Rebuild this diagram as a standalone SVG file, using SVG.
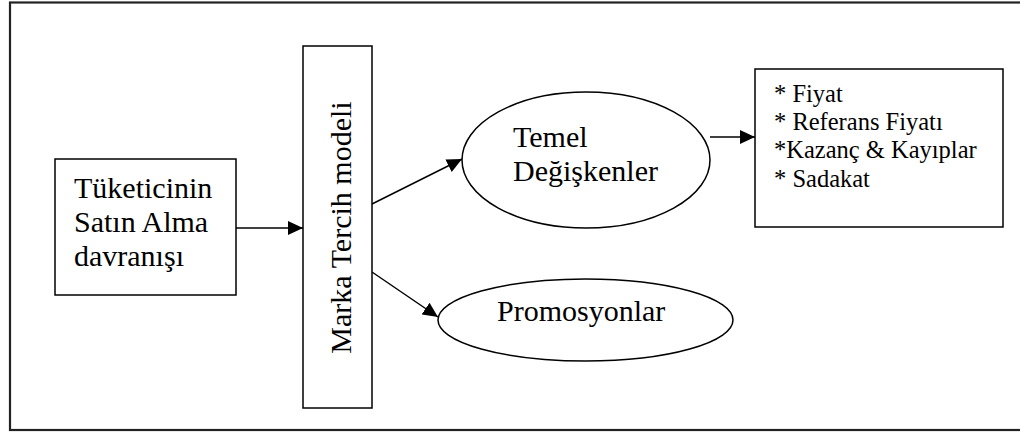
<svg xmlns="http://www.w3.org/2000/svg" width="1020" height="433" viewBox="0 0 1020 433">
  <style>
    .box { fill: #ffffff; stroke: #000000; stroke-width: 1.5; }
    .frame { fill: #ffffff; stroke: #222222; stroke-width: 2.2; }
    .edge { fill: none; stroke: #000000; stroke-width: 1.5; }
    .lbl { font-family: "Liberation Serif", "Times New Roman", serif; font-size: 30px; fill: #000000; }
    .lst { font-family: "Liberation Serif", "Times New Roman", serif; font-size: 24.5px; fill: #000000; }
  </style>
  <defs>
    <marker id="arrow" markerUnits="userSpaceOnUse" markerWidth="16" markerHeight="14" refX="15" refY="7" orient="auto">
      <path d="M0,0 L15,7 L0,14 Z" fill="#000000"/>
    </marker>
  </defs>

  <!-- outer frame -->
  <rect class="frame" x="10" y="2.5" width="1020" height="427.5"/>

  <!-- connectors -->
  <g id="connectors">
    <line class="edge" x1="236" y1="228" x2="303" y2="228" marker-end="url(#arrow)"/>
    <line class="edge" x1="372" y1="204" x2="462" y2="159" marker-end="url(#arrow)"/>
    <line class="edge" x1="372" y1="272" x2="438" y2="317" marker-end="url(#arrow)"/>
    <line class="edge" x1="710" y1="137" x2="755" y2="137" marker-end="url(#arrow)"/>
  </g>

  <!-- consumer purchase behaviour -->
  <g id="node-tuketici">
    <rect class="box" x="55" y="159" width="181" height="136"/>
    <text class="lbl" x="74" y="198">Tüketicinin</text>
    <text class="lbl" x="74" y="232">Satın Alma</text>
    <text class="lbl" x="74" y="266">davranışı</text>
  </g>

  <!-- brand preference model (vertical bar) -->
  <g id="node-marka">
    <rect class="box" x="303" y="46" width="69" height="362"/>
    <text class="lbl" text-anchor="middle" transform="translate(351,227.5) rotate(-90)">Marka Tercih modeli</text>
  </g>

  <!-- basic variables -->
  <g id="node-temel">
    <ellipse class="box" cx="586" cy="160" rx="124" ry="68"/>
    <text class="lbl" x="513" y="147">Temel</text>
    <text class="lbl" x="513" y="181">Değişkenler</text>
  </g>

  <!-- promotions -->
  <g id="node-promosyon">
    <ellipse class="box" cx="585.5" cy="320" rx="147.5" ry="41"/>
    <text class="lbl" x="497" y="321">Promosyonlar</text>
  </g>

  <!-- variable list -->
  <g id="node-liste">
    <rect class="box" x="755" y="69" width="248" height="158"/>
    <text class="lst" x="774" y="102">* Fiyat</text>
    <text class="lst" x="774" y="130">* Referans Fiyatı</text>
    <text class="lst" x="774" y="158">*Kazanç &amp; Kayıplar</text>
    <text class="lst" x="774" y="187">* Sadakat</text>
  </g>
</svg>
